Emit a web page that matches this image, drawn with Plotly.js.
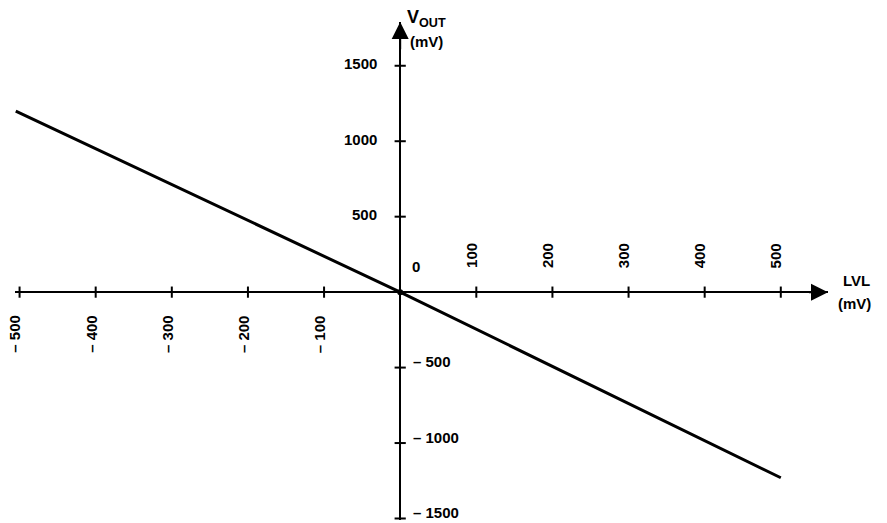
<!DOCTYPE html>
<html>
<head>
<meta charset="utf-8">
<script src="https://cdn.plot.ly/plotly-3.0.1.min.js"></script>
<style>
  body { margin: 0; background: #fff; }
  #plot { width: 887px; height: 523px; }
</style>
</head>
<body>
<div id="plot"></div>
<script>
// Transfer line: LVL input (mV) vs V_OUT (mV)
let lvl = [-505, 0, 500];
let vout = [1200, 0, -1230];

// Tick positions and labels on the x axis (LVL)
let xTicks = [-500, -400, -300, -200, -100, 100, 200, 300, 400, 500];
let xTickLabels = ["– 500", "– 400", "– 300", "– 200", "– 100", "100", "200", "300", "400", "500"];

// Tick positions and labels on the y axis (V_OUT)
let yTicks = [1500, 1000, 500, -500, -1000, -1500];
let yTickLabels = ["1500", "1000", "500", "– 500", "– 1000", "– 1500"];

let labelFont = { family: "Liberation Sans, Arial, sans-serif", size: 15, color: "#000", weight: "bold" };

// The transfer line itself
let trace1 = {
  x: lvl,
  y: vout,
  mode: "lines",
  line: { color: "#000", width: 3 },
  hoverinfo: "skip"
};

// Small tick marks sitting on the x axis
let trace2 = {
  x: xTicks,
  y: xTicks.map(function () { return 0; }),
  mode: "markers",
  marker: { symbol: "line-ns", size: 8, line: { color: "#000", width: 2 } },
  cliponaxis: false,
  hoverinfo: "skip"
};

// Small tick marks sitting on the y axis
let trace3 = {
  x: yTicks.map(function () { return 0; }),
  y: yTicks,
  mode: "markers",
  marker: { symbol: "line-ew", size: 8, line: { color: "#000", width: 2 } },
  cliponaxis: false,
  hoverinfo: "skip"
};

// Origin dot
let trace4 = {
  x: [0],
  y: [0],
  mode: "markers",
  marker: { color: "#000", size: 6 },
  hoverinfo: "skip"
};

let data = [trace1, trace2, trace3, trace4];

// Build tick label annotations
let annotations = [];
for (let i = 0; i < xTicks.length; i++) {
  let neg = xTicks[i] < 0;
  annotations.push({
    x: xTicks[i], y: 0, xref: "x", yref: "y",
    text: xTickLabels[i],
    textangle: -90,
    showarrow: false,
    xanchor: "center",
    yanchor: neg ? "top" : "bottom",
    xshift: -5,
    yshift: neg ? -21 : 22,
    font: labelFont
  });
}
for (let i = 0; i < yTicks.length; i++) {
  let neg = yTicks[i] < 0;
  annotations.push({
    x: 0, y: yTicks[i], xref: "x", yref: "y",
    text: yTickLabels[i],
    showarrow: false,
    xanchor: neg ? "left" : "right",
    yanchor: "middle",
    xshift: neg ? 11 : -21,
    yshift: neg ? 6 : 2,
    font: labelFont
  });
}

// Zero label near origin
annotations.push({
  x: 0, y: 0, xref: "x", yref: "y", text: "0", showarrow: false,
  xanchor: "left", yanchor: "bottom", xshift: 10, yshift: 15, font: labelFont
});

// Axis arrows
annotations.push({
  x: 562, y: 0, ax: 535, ay: 0, xref: "x", yref: "y", axref: "x", ayref: "y",
  text: "", showarrow: true, arrowhead: 2, arrowsize: 1.7, arrowwidth: 2, arrowcolor: "#000"
});
annotations.push({
  x: 0, y: 1790, ax: 0, ay: 1600, xref: "x", yref: "y", axref: "x", ayref: "y",
  text: "", showarrow: true, arrowhead: 2, arrowsize: 1.7, arrowwidth: 2, arrowcolor: "#000"
});

// Axis names
annotations.push({
  x: 0, y: 1, xref: "x", yref: "paper", text: "V<sub>OUT</sub>", showarrow: false,
  xanchor: "left", yanchor: "bottom", xshift: 5, yshift: -10,
  font: { family: "Liberation Sans, Arial, sans-serif", size: 18, color: "#000", weight: "bold" }
});
annotations.push({
  x: 0, y: 1, xref: "x", yref: "paper", text: "(mV)", showarrow: false,
  xanchor: "left", yanchor: "top", xshift: 8, yshift: -9, font: labelFont
});
annotations.push({
  x: 1, y: 0, xref: "paper", yref: "y", text: "LVL", showarrow: false,
  xanchor: "left", yanchor: "bottom", xshift: 13, yshift: 1,
  font: { family: "Liberation Sans, Arial, sans-serif", size: 15, color: "#000", weight: "bold" }
});
annotations.push({
  x: 1, y: 0, xref: "paper", yref: "y", text: "(mV)", showarrow: false,
  xanchor: "left", yanchor: "top", xshift: 8, yshift: -1, font: labelFont
});

let layout = {
  width: 887,
  height: 523,
  showlegend: false,
  paper_bgcolor: "#fff",
  plot_bgcolor: "#fff",
  margin: { l: 15, r: 59, t: 22, b: 3 },
  // Axes are drawn through the origin with the zero lines
  xaxis: {
    range: [-506, 562],
    showgrid: false, showticklabels: false, ticks: "", showline: false,
    zeroline: true, zerolinecolor: "#000", zerolinewidth: 2
  },
  yaxis: {
    range: [-1510, 1790],
    showgrid: false, showticklabels: false, ticks: "", showline: false,
    zeroline: true, zerolinecolor: "#000", zerolinewidth: 2
  },
  annotations: annotations
};

Plotly.newPlot("plot", data, layout, { staticPlot: true });
</script>
</body>
</html>
